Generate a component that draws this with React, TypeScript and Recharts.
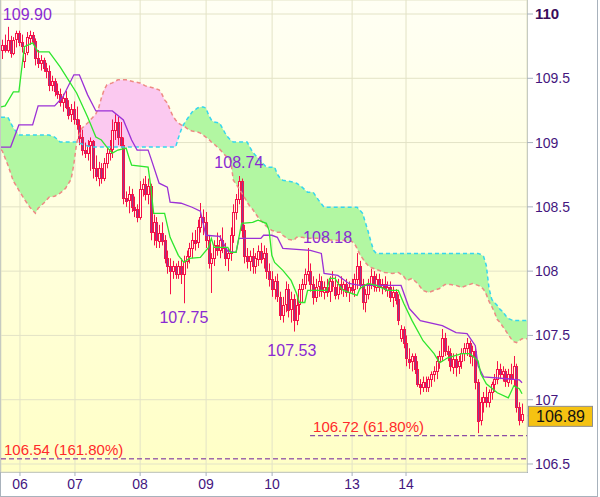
import React from "react";
import {
  Area,
  Bar,
  CartesianGrid,
  ComposedChart,
  Line,
  ReferenceDot,
  ReferenceLine,
  XAxis,
  YAxis,
} from "recharts";

const CHART_WIDTH = 600;
const CHART_HEIGHT = 497;
const X_MAX = 191.3;
const Y_MIN = 106.4377;
const Y_MAX = 110.1089;

const CANDLE_RED = "#f5124a";
const BEAR_FILL = "#933a8c";
const BULL_FILL = "#fffde6";
const TENKAN_COLOR = "#2ee62e";
const KIJUN_COLOR = "#9b30d6";
const SPAN_A_COLOR = "#36d6ee";
const SPAN_B_COLOR = "#ee8a84";
const CLOUD_GREEN = "#b2f7a2";
const CLOUD_PINK = "#fbc9f0";
const GRID_COLOR = "#e3e3c6";
const FRAME_COLOR = "#a8b2bc";
const AXIS_TEXT = "#44167e";
const NOTE_COLOR = "#8a2ad2";
const FIB_TEXT = "#ff2a2a";
const FIB_LINE = "#6e1f9e";

const dayTicks = [6.9, 26.9, 50.6, 74.6, 98.6, 127.7, 147.3];
const dayLabels = ["06", "07", "08", "09", "10", "13", "14"];
const priceTicks = [106.5, 107, 107.5, 108, 108.5, 109, 109.5, 110];

// hourly candles: open, high, low, close
const candles: [number, number, number, number][] = [
  [109.72, 109.8, 109.65, 109.76], [109.76, 109.84, 109.7, 109.72], [109.72, 109.9, 109.7, 109.8], [109.8, 109.83, 109.66, 109.7],
  [109.7, 109.82, 109.68, 109.8], [109.8, 109.87, 109.74, 109.85], [109.85, 109.87, 109.75, 109.78], [109.78, 109.84, 109.7, 109.75],
  [109.64, 109.74, 109.58, 109.7], [109.7, 109.86, 109.68, 109.82], [109.82, 109.87, 109.76, 109.84], [109.84, 109.86, 109.76, 109.79],
  [109.79, 109.81, 109.6, 109.66], [109.66, 109.72, 109.58, 109.62], [109.62, 109.68, 109.56, 109.64], [109.64, 109.66, 109.55, 109.58],
  [109.58, 109.62, 109.5, 109.56], [109.56, 109.6, 109.4, 109.45], [109.45, 109.52, 109.4, 109.48], [109.48, 109.5, 109.36, 109.4],
  [109.4, 109.46, 109.34, 109.38], [109.38, 109.42, 109.28, 109.32], [109.32, 109.38, 109.24, 109.35], [109.35, 109.4, 109.26, 109.28],
  [109.28, 109.33, 109.18, 109.22], [109.22, 109.3, 109.16, 109.26], [109.26, 109.32, 109.14, 109.18], [109.18, 109.28, 109.1, 109.14],
  [109.14, 109.18, 108.98, 109.04], [109.04, 109.1, 108.9, 108.94], [108.94, 109.0, 108.88, 108.92], [108.92, 109.02, 108.86, 108.98],
  [108.98, 109.04, 108.78, 109.01], [109.01, 109.02, 108.72, 108.8], [108.8, 108.9, 108.7, 108.74], [108.72, 108.85, 108.66, 108.8],
  [108.8, 108.84, 108.68, 108.72], [108.72, 108.88, 108.7, 108.84], [108.84, 108.96, 108.8, 108.92], [108.92, 109.02, 108.86, 108.95],
  [108.95, 109.18, 108.88, 109.1], [109.1, 109.22, 109.02, 109.16], [109.16, 109.2, 108.98, 109.04], [109.04, 109.16, 108.96, 108.98],
  [108.98, 109.04, 108.52, 108.57], [108.57, 108.62, 108.5, 108.55], [108.55, 108.66, 108.45, 108.6], [108.6, 108.64, 108.46, 108.5],
  [108.5, 108.58, 108.42, 108.48], [108.48, 108.52, 108.38, 108.42], [108.42, 108.7, 108.4, 108.64], [108.64, 108.72, 108.58, 108.68],
  [108.68, 108.74, 108.55, 108.6], [108.6, 108.72, 108.52, 108.66], [108.66, 108.68, 108.24, 108.3], [108.3, 108.44, 108.2, 108.38],
  [108.38, 108.42, 108.18, 108.24], [108.24, 108.36, 108.18, 108.3], [108.3, 108.38, 108.2, 108.24], [108.24, 108.28, 108.06, 108.1],
  [108.1, 108.16, 107.98, 108.04], [108.04, 108.1, 107.82, 108.0], [108.0, 108.08, 107.94, 108.04], [108.04, 108.06, 107.94, 107.98],
  [107.98, 108.08, 107.94, 108.04], [108.04, 108.1, 107.9, 107.98], [107.98, 108.12, 107.75, 108.08], [108.08, 108.16, 108.02, 108.12],
  [108.12, 108.22, 108.06, 108.18], [108.18, 108.3, 108.1, 108.24], [108.24, 108.32, 108.16, 108.22], [108.22, 108.4, 108.18, 108.34],
  [108.34, 108.53, 108.3, 108.42], [108.42, 108.48, 108.28, 108.38], [108.38, 108.46, 108.18, 108.24], [108.24, 108.28, 108.02, 108.06],
  [108.06, 108.14, 107.83, 108.1], [108.1, 108.24, 108.04, 108.2], [108.2, 108.3, 108.12, 108.16], [108.16, 108.28, 108.1, 108.24],
  [108.24, 108.34, 108.14, 108.18], [108.18, 108.22, 108.04, 108.1], [108.1, 108.18, 108.0, 108.14], [108.14, 108.34, 108.08, 108.28],
  [108.28, 108.52, 108.22, 108.46], [108.46, 108.6, 108.4, 108.56], [108.56, 108.74, 108.52, 108.7], [108.7, 108.72, 108.26, 108.32],
  [108.32, 108.36, 108.06, 108.12], [108.12, 108.18, 108.02, 108.08], [108.08, 108.16, 108.0, 108.12], [108.12, 108.18, 107.98, 108.04],
  [108.04, 108.14, 107.98, 108.1], [108.1, 108.2, 108.04, 108.16], [108.16, 108.22, 108.06, 108.1], [108.1, 108.2, 108.02, 108.14],
  [108.14, 108.18, 107.94, 108.0], [108.0, 108.06, 107.88, 107.94], [107.94, 108.0, 107.8, 107.86], [107.86, 107.96, 107.78, 107.92],
  [107.92, 107.98, 107.76, 107.8], [107.8, 107.84, 107.62, 107.66], [107.66, 107.8, 107.6, 107.74], [107.74, 107.92, 107.68, 107.86],
  [107.86, 107.9, 107.64, 107.7], [107.7, 107.84, 107.6, 107.78], [107.78, 107.82, 107.53, 107.62], [107.62, 107.8, 107.58, 107.74],
  [107.74, 107.9, 107.66, 107.86], [107.86, 107.94, 107.76, 107.9], [107.9, 108.02, 107.86, 107.98], [107.98, 108.18, 107.92, 108.0],
  [108.0, 108.06, 107.84, 107.9], [107.9, 107.96, 107.74, 107.8], [107.8, 107.94, 107.76, 107.88], [107.88, 107.98, 107.8, 107.92],
  [107.92, 107.96, 107.8, 107.84], [107.84, 107.92, 107.78, 107.88], [107.88, 107.94, 107.8, 107.84], [107.84, 107.96, 107.76, 107.92],
  [107.92, 108.0, 107.84, 107.88], [107.88, 107.96, 107.78, 107.82], [107.82, 107.94, 107.78, 107.9], [107.9, 107.96, 107.82, 107.86],
  [107.86, 107.92, 107.8, 107.9], [107.9, 107.94, 107.8, 107.84], [107.84, 107.92, 107.76, 107.88], [107.88, 107.94, 107.82, 107.86],
  [107.86, 107.98, 107.8, 107.94], [107.94, 108.14, 107.86, 108.04], [108.04, 108.08, 107.86, 107.9], [107.9, 107.94, 107.7, 107.76],
  [107.76, 107.86, 107.68, 107.82], [107.82, 107.94, 107.78, 107.9], [107.9, 108.02, 107.86, 107.96], [107.96, 108.0, 107.84, 107.88],
  [107.88, 107.98, 107.84, 107.94], [107.94, 107.98, 107.84, 107.88], [107.88, 107.94, 107.82, 107.9], [107.9, 107.96, 107.84, 107.86],
  [107.86, 107.92, 107.8, 107.88], [107.88, 107.92, 107.76, 107.8], [107.8, 107.88, 107.72, 107.84], [107.84, 107.86, 107.74, 107.78],
  [107.78, 107.82, 107.58, 107.62], [107.48, 107.58, 107.45, 107.55], [107.55, 107.57, 107.4, 107.44], [107.44, 107.5, 107.26, 107.32],
  [107.32, 107.4, 107.24, 107.3], [107.3, 107.36, 107.22, 107.34], [107.34, 107.36, 107.2, 107.24], [107.24, 107.3, 107.1, 107.12],
  [107.12, 107.16, 107.04, 107.1], [107.1, 107.18, 107.06, 107.14], [107.14, 107.18, 107.06, 107.1], [107.1, 107.18, 107.06, 107.16],
  [107.16, 107.22, 107.1, 107.2], [107.2, 107.26, 107.14, 107.22], [107.22, 107.34, 107.16, 107.3], [107.3, 107.38, 107.24, 107.34],
  [107.34, 107.55, 107.3, 107.48], [107.48, 107.52, 107.34, 107.38], [107.38, 107.42, 107.3, 107.36], [107.36, 107.4, 107.22, 107.26],
  [107.26, 107.36, 107.2, 107.32], [107.32, 107.36, 107.18, 107.26], [107.26, 107.34, 107.2, 107.3], [107.3, 107.4, 107.24, 107.36],
  [107.36, 107.44, 107.3, 107.4], [107.4, 107.48, 107.34, 107.44], [107.44, 107.46, 107.28, 107.34], [107.34, 107.42, 107.26, 107.38],
  [107.38, 107.4, 107.08, 107.14], [107.14, 107.16, 106.74, 106.84], [106.84, 107.02, 106.8, 106.98], [106.98, 107.06, 106.9, 107.02],
  [107.02, 107.1, 106.94, 106.98], [106.98, 107.08, 106.94, 107.06], [107.06, 107.14, 107.0, 107.12], [107.12, 107.2, 107.06, 107.16],
  [107.16, 107.3, 107.12, 107.24], [107.24, 107.28, 107.16, 107.2], [107.2, 107.26, 107.14, 107.22], [107.22, 107.24, 107.1, 107.14],
  [107.14, 107.24, 107.1, 107.2], [107.2, 107.28, 107.12, 107.16], [107.16, 107.34, 107.1, 107.26], [107.26, 107.28, 106.9, 106.94],
  [106.94, 106.98, 106.8, 106.84], [106.84, 106.97, 106.82, 106.89],
];

// [candle index, price]
const tenkan: [number, number][] = [
  [-0.5, 109.277], [1, 109.285], [4, 109.394], [6, 109.394], [8, 109.745], [11, 109.776], [13, 109.706], [17, 109.706],
  [21, 109.589], [27, 109.386], [31, 109.199], [34, 109.043], [36, 109.02], [38, 108.965], [40, 108.918], [42, 108.942],
  [45, 108.957], [46, 108.887], [47, 108.825], [53, 108.809], [54, 108.653], [55, 108.45], [59, 108.45], [61, 108.263],
  [64, 108.123], [66, 108.068], [68, 108.099], [72, 108.107], [75, 108.185], [76, 108.255], [77, 108.185], [82, 108.185],
  [83, 108.146], [85, 108.146], [87, 108.372], [91, 108.38], [93, 108.396], [96, 108.372], [97, 108.317], [98, 108.123],
  [99, 108.068], [102, 108.006], [105, 107.928], [107, 107.826], [108, 107.756], [110, 107.756], [111, 107.85], [118, 107.85],
  [119, 107.943], [121, 107.943], [123, 107.873], [124, 107.85], [129, 107.811], [130, 107.865], [133, 107.904], [136, 107.889],
  [140, 107.85], [144, 107.85], [146, 107.748], [149, 107.615], [153, 107.459], [157, 107.358], [159, 107.287], [162, 107.326],
  [167, 107.358], [170, 107.358], [173, 107.303], [174, 107.202], [176, 107.124], [180, 107.054], [184, 107.015], [186, 107.108],
  [188, 107.085], [189, 107.046],
];

const kijun: [number, number][] = [
  [-0.5, 108.965], [3, 108.965], [6, 109.137], [11, 109.137], [13, 109.285], [19, 109.285], [22, 109.355], [26, 109.527],
  [28, 109.527], [31, 109.371], [34, 109.246], [40, 109.246], [44, 109.176], [47, 109.02], [49, 108.942], [53, 108.942],
  [54, 108.879], [57, 108.684], [60, 108.653], [61, 108.536], [65, 108.528], [69, 108.497], [72, 108.466], [74, 108.279],
  [79, 108.271], [82, 108.154], [85, 108.146], [86, 108.255], [94, 108.255], [95, 108.279], [98, 108.279], [100, 108.263],
  [102, 108.177], [112, 108.162], [116, 108.138], [117, 107.982], [122, 107.967], [126, 107.904], [130, 107.889], [145, 107.889],
  [148, 107.709], [152, 107.615], [160, 107.576], [165, 107.522], [169, 107.514], [172, 107.42], [173, 107.264], [175, 107.178],
  [188, 107.155], [189, 107.132],
];

// [candle index, leading span A, leading span B]
const cloud: [number, number, number][] = [
  [-0.5, 109.197, 108.945], [0, 109.197, 108.934], [2, 109.197, 108.825], [4, 109.113, 108.7], [6, 109.058, 108.629],
  [8, 109.058, 108.559], [10, 109.058, 108.497], [12, 109.058, 108.45], [13, 109.058, 108.489], [15, 109.058, 108.528],
  [17, 109.058, 108.575], [19, 109.043, 108.583], [21, 109.004, 108.606], [23, 109.004, 108.645], [25, 109.004, 108.715],
  [26, 109.004, 108.832], [27, 109.004, 108.996], [28, 108.996, 109.066], [29, 108.988, 109.113], [31, 108.973, 109.152],
  [33, 108.965, 109.199], [34, 108.965, 109.223], [35, 108.965, 109.269], [36, 108.965, 109.347], [37, 108.965, 109.41],
  [38, 108.965, 109.449], [40, 108.965, 109.464], [42, 108.965, 109.488], [45, 108.965, 109.488], [48, 108.965, 109.472],
  [50, 108.965, 109.464], [52, 108.965, 109.441], [55, 108.965, 109.425], [57, 108.965, 109.41], [58, 108.965, 109.378],
  [59, 108.965, 109.332], [60, 108.965, 109.308], [61, 108.965, 109.254], [62, 108.965, 109.207], [63, 108.965, 109.176],
  [64, 109.035, 109.152], [65, 109.098, 109.137], [66, 109.144, 109.129], [67, 109.176, 109.113], [68, 109.207, 109.098],
  [69, 109.238, 109.09], [71, 109.269, 109.082], [72, 109.277, 109.074], [73, 109.277, 109.058], [74, 109.269, 109.043],
  [75, 109.215, 109.027], [76, 109.176, 109.004], [77, 109.16, 108.988], [79, 109.152, 108.949], [81, 109.074, 108.902],
  [82, 109.043, 108.879], [83, 109.02, 108.863], [84, 109.004, 108.707], [85, 109.004, 108.676], [86, 109.004, 108.645],
  [88, 109.004, 108.575], [89, 109.004, 108.536], [90, 108.965, 108.505], [91, 108.926, 108.481], [93, 108.879, 108.419],
  [95, 108.832, 108.372], [96, 108.809, 108.349], [98, 108.809, 108.317], [99, 108.809, 108.31], [100, 108.754, 108.302],
  [101, 108.723, 108.302], [102, 108.707, 108.279], [104, 108.699, 108.247], [106, 108.692, 108.24], [107, 108.684, 108.263],
  [109, 108.653, 108.263], [111, 108.614, 108.255], [113, 108.614, 108.255], [115, 108.552, 108.255], [117, 108.497, 108.247],
  [120, 108.497, 108.24], [124, 108.497, 108.24], [127, 108.497, 108.232], [128, 108.497, 108.216], [129, 108.497, 108.177],
  [130, 108.474, 108.13], [131, 108.45, 108.099], [132, 108.38, 108.068], [133, 108.31, 108.044], [134, 108.232, 108.029],
  [135, 108.162, 108.021], [136, 108.138, 108.013], [139, 108.138, 107.99], [142, 108.138, 107.982], [144, 108.138, 107.99],
  [146, 108.138, 107.958], [147, 108.138, 107.927], [149, 108.138, 107.943], [151, 108.138, 107.904], [153, 108.138, 107.85],
  [155, 108.138, 107.834], [157, 108.138, 107.85], [159, 108.138, 107.865], [161, 108.138, 107.896], [163, 108.138, 107.896],
  [165, 108.138, 107.889], [167, 108.138, 107.873], [169, 108.138, 107.889], [171, 108.138, 107.904], [173, 108.138, 107.889],
  [174, 108.13, 107.881], [175, 108.115, 107.858], [176, 108.044, 107.819], [177, 107.865, 107.764], [178, 107.78, 107.725],
  [179, 107.756, 107.678], [180, 107.733, 107.623], [181, 107.702, 107.6], [182, 107.686, 107.569], [183, 107.655, 107.538],
  [184, 107.631, 107.506], [185, 107.623, 107.475], [186, 107.616, 107.452], [187, 107.616, 107.444], [188, 107.616, 107.46],
  [189, 107.616, 107.475], [190.8, 107.616, 107.475],
];

// highs and lows marked on the chart: [candle index, price]
const extremes: [number, number][] = [[2, 109.9], [86, 108.74], [66, 107.75], [111, 108.18], [106, 107.53]];
const extremeShift: [number, number, "start" | "middle"][] = [[-5, -12, "start"], [0, -13, "middle"], [0, 14, "middle"], [20, -10, "middle"], [-2, 19, "middle"]];

// fibonacci levels: [price, ratio text, start candle index]
const fibLevels: [number, string, number][] = [[106.72, "61.80%", 111.9], [106.54, "161.80%", -0.5]];

const lastPrice = 106.89;

type Row = {
  x: number;
  open?: number;
  high?: number;
  low?: number;
  close?: number;
  range?: [number, number];
  tenkan?: number;
  kijun?: number;
  spanA?: number;
  spanB?: number;
  greenCloud?: [number, number];
  pinkCloud?: [number, number];
};

const rowsByX = new Map<number, Row>();
function rowAt(idx: number): Row {
  const x = Math.round((idx + 0.5) * 100) / 100;
  let row = rowsByX.get(x);
  if (!row) {
    row = { x };
    rowsByX.set(x, row);
  }
  return row;
}
candles.forEach(([open, high, low, close], i) => {
  Object.assign(rowAt(i), { open, high, low, close, range: [low, high] });
});
tenkan.forEach(([i, v]) => {
  rowAt(i).tenkan = v;
});
kijun.forEach(([i, v]) => {
  rowAt(i).kijun = v;
});
cloud.forEach(([i, a, b]) => {
  const top = Math.max(a, b);
  Object.assign(rowAt(i), { spanA: a, spanB: b, greenCloud: [b, top], pinkCloud: [a, top] });
});
const chartData = [...rowsByX.values()].sort((p, q) => p.x - q.x);

function CandleShape(props: any) {
  const { x, y, width, height, payload } = props;
  if (!payload || payload.high == null || !Number.isFinite(y) || !Number.isFinite(height)) return null;
  const top = Math.min(y, y + height);
  const span = Math.abs(height);
  const cx = Math.round(x + width / 2);
  const unit = payload.high > payload.low ? span / (payload.high - payload.low) : 0;
  const openY = top + (payload.high - payload.open) * unit;
  const closeY = top + (payload.high - payload.close) * unit;
  const bodyTop = Math.round(Math.min(openY, closeY)) + 0.5;
  const bodyHeight = Math.max(Math.round(Math.abs(closeY - openY)), 1);
  const bearish = payload.close < payload.open;
  return (
    <g>
      <line x1={cx + 0.5} x2={cx + 0.5} y1={top} y2={top + span} stroke={CANDLE_RED} strokeWidth={1} />
      <rect x={cx - 0.5} y={bodyTop} width={2} height={bodyHeight} fill={bearish ? BEAR_FILL : BULL_FILL} stroke={CANDLE_RED} strokeWidth={1} />
    </g>
  );
}

function PriceTick(props: any) {
  const { x, y, payload } = props;
  const isTop = payload.value === 110;
  return (
    <text x={x} y={y} dy={5} textAnchor="start" fontSize={isTop ? 15 : 14} fontWeight={isTop ? 700 : 400} fill={isTop ? "#3a0c5c" : AXIS_TEXT}>
      {payload.value}
    </text>
  );
}

export default function App(): React.ReactElement {
  return (
    <div style={{ position: "absolute", left: 0, top: 0, width: CHART_WIDTH, height: CHART_HEIGHT, background: "#ffffff", fontFamily: "'Liberation Sans', Arial, sans-serif" }}>
      <div
        style={{
          position: "absolute",
          left: 0,
          top: 0,
          width: 528,
          height: 473,
          boxSizing: "border-box",
          borderLeft: `1px solid ${FRAME_COLOR}`,
          borderRight: `1px solid ${FRAME_COLOR}`,
          borderBottom: `1px solid ${FRAME_COLOR}`,
          background: "linear-gradient(#fffff4, #ffffc6)",
        }}
      />
      <div
        style={{
          position: "absolute",
          left: 0,
          top: 0,
          width: 598,
          height: 497,
          boxSizing: "border-box",
          borderLeft: `1px solid ${FRAME_COLOR}`,
          borderRight: `1px solid ${FRAME_COLOR}`,
          borderBottom: `1px solid ${FRAME_COLOR}`,
        }}
      />
      <div style={{ position: "absolute", left: 0, top: 0 }}>
        <ComposedChart width={CHART_WIDTH} height={CHART_HEIGHT} data={chartData} margin={{ top: 0, right: 0, bottom: 0, left: 1 }}>
          <CartesianGrid stroke={GRID_COLOR} />
          <XAxis
            dataKey="x"
            type="number"
            domain={[0, X_MAX]}
            allowDataOverflow
            ticks={dayTicks}
            interval={0}
            tickFormatter={(v: number) => dayLabels[dayTicks.indexOf(v)] ?? ""}
            height={25}
            tickSize={4}
            tickMargin={3}
            axisLine={false}
            tickLine={{ stroke: FRAME_COLOR }}
            tick={{ fill: AXIS_TEXT, fontSize: 14 }}
          />
          <YAxis
            orientation="right"
            type="number"
            domain={[Y_MIN, Y_MAX]}
            allowDataOverflow
            ticks={priceTicks}
            interval={0}
            width={73}
            tickSize={6}
            tickMargin={2}
            axisLine={false}
            tickLine={{ stroke: FRAME_COLOR }}
            tick={<PriceTick />}
          />
          <Area dataKey="greenCloud" type="linear" stroke="none" fill={CLOUD_GREEN} fillOpacity={1} connectNulls isAnimationActive={false} />
          <Area dataKey="pinkCloud" type="linear" stroke="none" fill={CLOUD_PINK} fillOpacity={1} connectNulls isAnimationActive={false} />
          <Line dataKey="spanA" type="linear" stroke={SPAN_A_COLOR} strokeWidth={1.5} strokeDasharray="4 3" dot={false} connectNulls isAnimationActive={false} />
          <Line dataKey="spanB" type="linear" stroke={SPAN_B_COLOR} strokeWidth={1.5} strokeDasharray="4 3" dot={false} connectNulls isAnimationActive={false} />
          {fibLevels.map(([price, ratio, from]) => (
            <ReferenceLine
              key={`fib-${ratio}`}
              segment={[
                { x: from + 0.5, y: price },
                { x: X_MAX, y: price },
              ]}
              stroke={FIB_LINE}
              strokeDasharray="5 3"
              strokeWidth={1}
            />
          ))}
          {fibLevels.map(([price, ratio, from]) => (
            <ReferenceDot
              key={`fib-label-${ratio}`}
              x={from + 0.5}
              y={price}
              r={0}
              ifOverflow="visible"
              shape={(p: any) => (
                <text x={p.cx + 3} y={p.cy - 4} fontSize={15} fill={FIB_TEXT}>
                  {`${price.toFixed(2)} (${ratio})`}
                </text>
              )}
            />
          ))}
          <Bar dataKey="range" barSize={3} shape={(p: any) => <CandleShape {...p} />} isAnimationActive={false} />
          <Line dataKey="kijun" type="linear" stroke={KIJUN_COLOR} strokeWidth={1.3} dot={false} connectNulls isAnimationActive={false} />
          <Line dataKey="tenkan" type="linear" stroke={TENKAN_COLOR} strokeWidth={1.3} dot={false} connectNulls isAnimationActive={false} />
          {extremes.map(([idx, price], i) => (
            <ReferenceDot
              key={`note-${idx}`}
              x={idx + 0.5}
              y={price}
              r={0}
              ifOverflow="visible"
              shape={(p: any) => (
                <text x={p.cx + extremeShift[i][0]} y={p.cy + extremeShift[i][1]} dominantBaseline="central" textAnchor={extremeShift[i][2]} fontSize={16} fill={NOTE_COLOR}>
                  {price.toFixed(2)}
                </text>
              )}
            />
          ))}
          <ReferenceDot
            x={X_MAX}
            y={lastPrice}
            r={0}
            ifOverflow="visible"
            shape={(p: any) => (
              <g>
                <line x1={p.cx} x2={p.cx + 5} y1={p.cy + 2} y2={p.cy + 2} stroke={FRAME_COLOR} />
                <rect x={p.cx + 1.5} y={p.cy - 7.5} width={64} height={20} fill="#f5c212" stroke="#8e8e8e" />
                <text x={p.cx + 33.5} y={p.cy + 2.5} dominantBaseline="central" textAnchor="middle" fontSize={16} fill="#111">
                  {lastPrice.toFixed(2)}
                </text>
              </g>
            )}
          />
        </ComposedChart>
      </div>
    </div>
  );
}
